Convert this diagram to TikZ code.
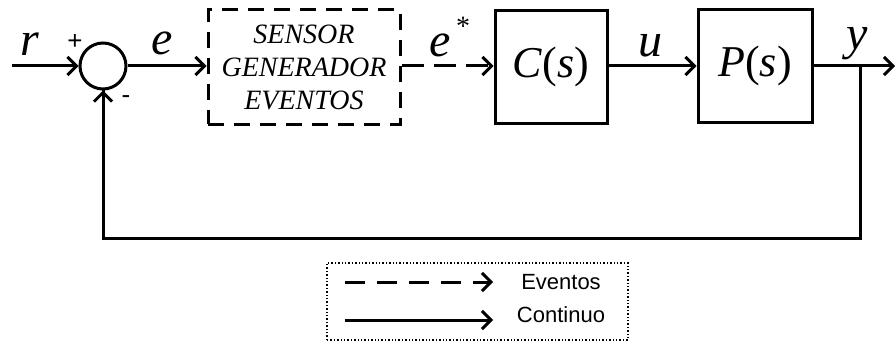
\documentclass[tikz,border=0pt]{standalone}
\usepackage{fontspec}
\setmainfont{Liberation Serif}
\newfontfamily\legendfont{Liberation Sans}
\usetikzlibrary{arrows.meta}
\tikzset{
  wire/.style={line width=3pt, -{Straight Barb[length=9pt,width=18pt,line width=3pt]}},
  plain/.style={line width=3pt},
  blockbox/.style={draw, line width=3pt, minimum height=113pt, inner sep=0pt,
    font=\fontsize{44}{44}\selectfont},
  sig/.style={font=\fontsize{48}{48}\selectfont\itshape, inner sep=0pt},
  sgn/.style={font=\legendfont\fontsize{26}{26}\selectfont, inner sep=0pt},
  legtext/.style={font=\legendfont\fontsize{22}{22}\selectfont, inner sep=0pt},
}
\begin{document}
\begin{tikzpicture}[x=1pt,y=-1pt]
  \useasboundingbox (0,0) rectangle (895,345);
  % summing junction
  \node[draw, circle, line width=3pt, minimum size=46pt, inner sep=0pt] (sum) at (103,66) {};
  \coordinate (rin) at (12,66);
  % event generator
  \node[draw, dashed, dash pattern=on 16pt off 10pt, line width=3pt, minimum width=192pt, minimum height=114pt,
        align=center, font=\fontsize{28}{33}\selectfont\itshape, inner sep=0pt] (gen) at (304,67)
        {SENSOR\\GENERADOR\\EVENTOS};
  % controller and plant
  \node[blockbox, minimum width=112pt] (ctl) at (551,67) {\textit{C}(\textit{s})};
  \node[blockbox, minimum width=114pt] (plant) at (755,66) {\textit{P}(\textit{s})};
  \coordinate (yout) at (895,66);
  \coordinate (tap) at (860,66);
  \coordinate (fbr) at (860,238);
  \coordinate (fbl) at (103,238);

  % forward path
  \draw[wire] (rin) -- (sum.west);
  \draw[wire] (sum.east) -- (gen.west |- sum.east);
  \draw[wire, dash pattern=on 22pt off 10pt] (gen.east |- sum.east) -- (ctl.west |- sum.east);
  \draw[wire] (ctl.east |- sum.east) -- (plant.west |- sum.east);
  \draw[wire] (plant.east |- sum.east) -- (yout);
  % feedback path
  \draw[plain] (tap) -- (fbr) -- (fbl) -- (sum.south);
  \draw[wire] (fbl) -- (sum.south);

  % signal labels
  \node[sig] (lr) at (30,44) {r};
  \node[sig] (le) at (162,43) {e};
  \node[sig] (les) at (440,45) {e};
  \node[sig, font=\fontsize{28}{28}\selectfont] (star) at (463,26) {*};
  \node[sig] (lu) at (650,46) {u};
  \node[sig] (ly) at (857,44) {y};
  \node[sgn] (plus) at (75,42) {+};
  \node[sgn] (minus) at (126,100) {-};

  % legend
  \node[draw, dotted, line width=1.4pt, minimum width=301pt, minimum height=77pt] (leg) at (477.5,301.5) {};
  \coordinate (d1) at (345,282);
  \coordinate (d2) at (493,282);
  \coordinate (c1) at (345,320);
  \coordinate (c2) at (493,320);
  \draw[wire, dash pattern=on 20pt off 12pt] (d1) -- (d2);
  \draw[wire] (c1) -- (c2);
  \node[legtext] (tev) at (561,282) {Eventos};
  \node[legtext] (tco) at (561,315) {Continuo};
\end{tikzpicture}
\end{document}
